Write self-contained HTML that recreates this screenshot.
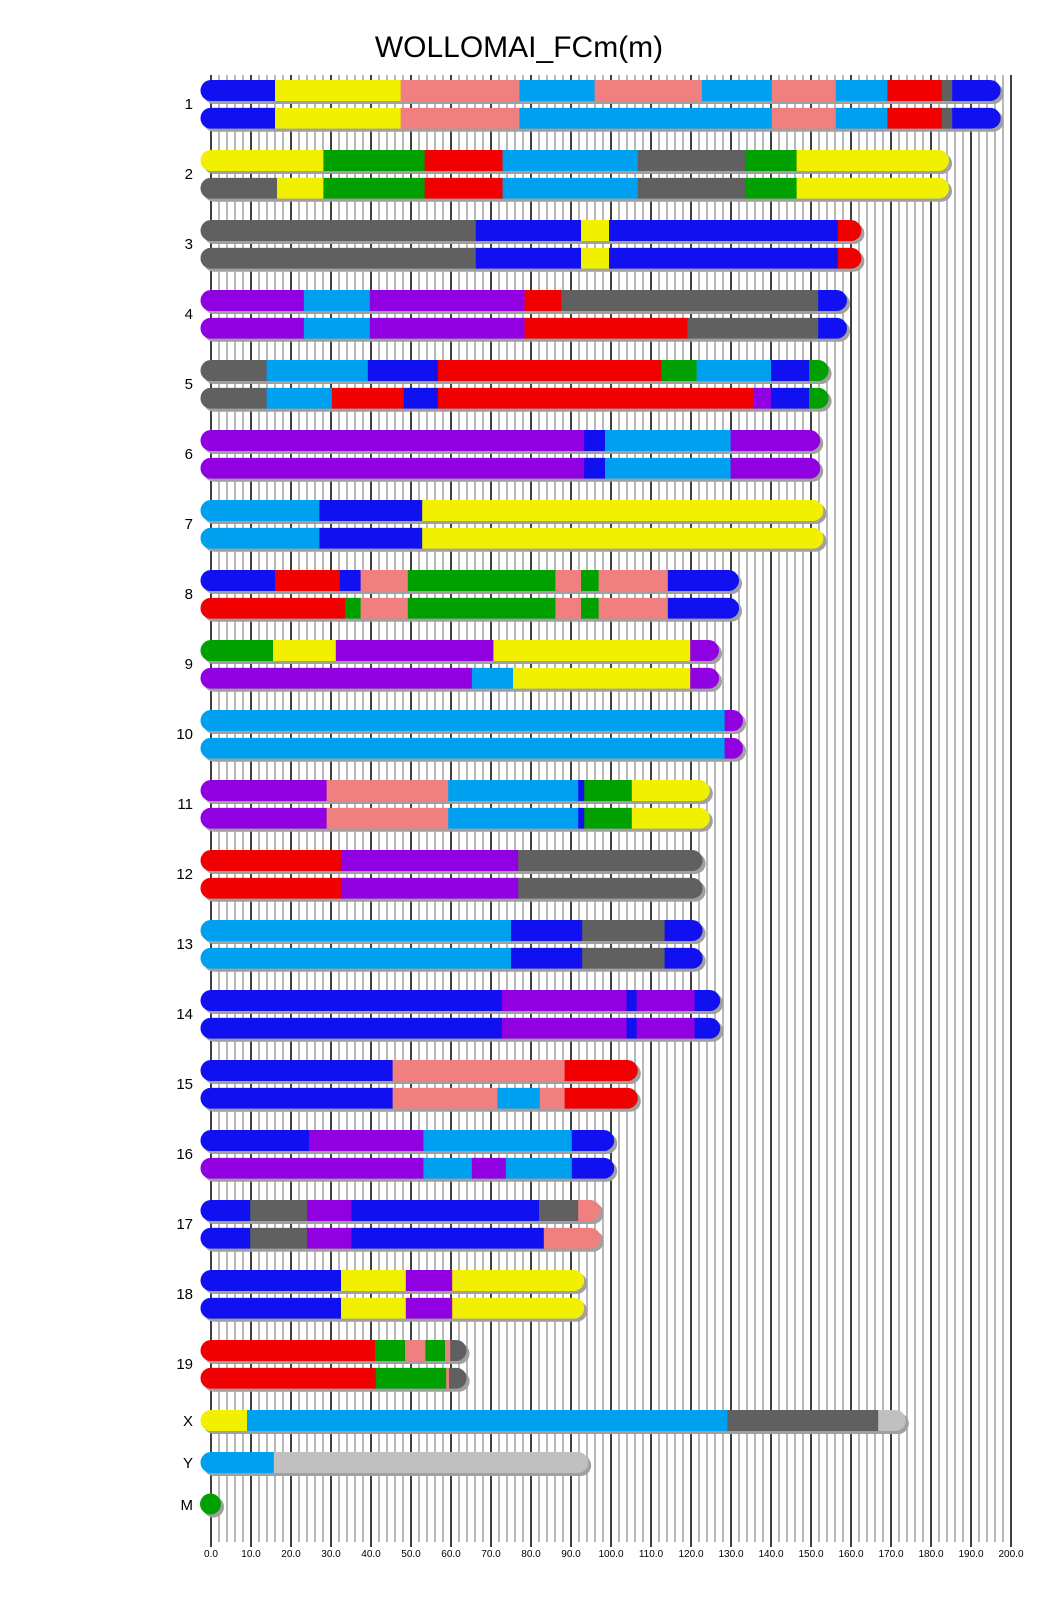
<!DOCTYPE html>
<html><head><meta charset="utf-8"><style>html,body{margin:0;padding:0;background:#fff;}svg{display:block}</style></head>
<body>
<svg id="s" width="1040" height="1616" xmlns="http://www.w3.org/2000/svg" font-family="Liberation Sans, Arial, sans-serif"></svg>
<script>
const C={b:'#1010f0',y:'#f0f000',p:'#f08080',l:'#00a0f0',r:'#f00000',g:'#606060',G:'#00a000',u:'#9000e0',s:'#c0c0c0'};
const chrs=[
['1',[['b',16],['y',47.4],['p',77.1],['l',95.9],['p',122.7],['l',140.2],['p',156.2],['l',169.1],['r',182.7],['g',185.3],['b',197.4]],
     [['b',16],['y',47.4],['p',77.1],['l',140.2],['p',156.2],['l',169.1],['r',182.7],['g',185.3],['b',197.4]]],
['2',[['y',28.1],['G',53.4],['r',72.9],['l',106.7],['g',133.5],['G',146.4],['y',184.5]],
     [['g',16.5],['y',28.1],['G',53.4],['r',72.9],['l',106.7],['g',133.5],['G',146.4],['y',184.5]]],
['3',[['g',66.2],['b',92.5],['y',99.5],['b',156.7],['r',162.6]],[['g',66.2],['b',92.5],['y',99.5],['b',156.7],['r',162.6]]],
['4',[['u',23.2],['l',39.7],['u',78.4],['r',87.6],['g',151.8],['b',159]],[['u',23.2],['l',39.7],['u',78.4],['r',119.1],['g',151.8],['b',159]]],
['5',[['g',13.9],['l',39.2],['b',56.7],['r',112.6],['G',121.4],['l',140],['b',149.5],['G',154.4]],
     [['g',13.9],['l',30.2],['r',48.2],['b',56.7],['r',135.6],['u',140],['b',149.5],['G',154.4]]],
['6',[['u',93.3],['b',98.5],['l',129.9],['u',152.3]],[['u',93.3],['b',98.5],['l',129.9],['u',152.3]]],
['7',[['l',27.1],['b',52.8],['y',153.1]],[['l',27.1],['b',52.8],['y',153.1]]],
['8',[['b',16],['r',32.2],['b',37.4],['p',49.2],['G',86.1],['p',92.5],['G',96.9],['p',114.2],['b',132]],
     [['r',33.5],['G',37.4],['p',49.2],['G',86.1],['p',92.5],['G',96.9],['p',114.2],['b',132]]],
['9',[['G',15.5],['y',31.2],['u',70.6],['y',119.8],['u',127]],[['u',65.2],['l',75.5],['y',119.8],['u',127]]],
['10',[['l',128.4],['u',133]],[['l',128.4],['u',133]]],
['11',[['u',28.9],['p',59.3],['l',91.8],['b',93.3],['G',105.2],['y',124.7]],[['u',28.9],['p',59.3],['l',91.8],['b',93.3],['G',105.2],['y',124.7]]],
['12',[['r',32.5],['u',76.8],['g',122.9]],[['r',32.5],['u',76.8],['g',122.9]]],
['13',[['l',75],['b',92.8],['g',113.4],['b',122.9]],[['l',75],['b',92.8],['g',113.4],['b',122.9]]],
['14',[['b',72.7],['u',103.9],['b',106.4],['u',120.9],['b',127.3]],[['b',72.7],['u',103.9],['b',106.4],['u',120.9],['b',127.3]]],
['15',[['b',45.4],['p',88.4],['r',106.7]],[['b',45.4],['p',71.6],['l',82.2],['p',88.4],['r',106.7]]],
['16',[['b',24.5],['u',53.1],['l',90.2],['b',100.8]],[['u',53.1],['l',65.2],['u',73.7],['l',90.2],['b',100.8]]],
['17',[['b',9.8],['g',24],['u',35.1],['b',82],['g',91.8],['p',97.4]],[['b',9.8],['g',24],['u',35.1],['b',83.2],['p',97.4]]],
['18',[['b',32.5],['y',48.7],['u',60.3],['y',93.3]],[['b',32.5],['y',48.7],['u',60.3],['y',93.3]]],
['19',[['r',41],['G',48.5],['p',53.6],['G',58.5],['p',59.8],['g',63.9]],[['r',41.2],['G',58.8],['p',59.5],['g',63.9]]]
];
const X0=211,K=4,H=21,R=10.5;
const px=u=>X0+u*K;
let o='';
// grid
for(let i=1;i<100;i++){ if(i%5==0)continue; const x=px(i*2); o+=`<line x1="${x}" y1="75" x2="${x}" y2="1542" stroke="#a0a0a0" stroke-width="1.5"/>`;}
for(let i=0;i<=20;i++){const x=px(i*10); o+=`<line x1="${x}" y1="75" x2="${x}" y2="1547" stroke="#000" stroke-width="1.5"/>`;
 o+=`<text x="${x}" y="1557" font-size="10" text-anchor="middle">${(i*10).toFixed(1)}</text>`;}
let cid=0;
function bar(y,segs){
 const end=segs[segs.length-1][1];const x1=X0-R,x2=px(end);
 o+=`<rect x="${x1+3}" y="${y+3}" width="${x2-x1}" height="${H}" rx="${R}" fill="#a0a0a0"/>`;
 cid++;o+=`<clipPath id="c${cid}"><rect x="${x1}" y="${y}" width="${x2-x1}" height="${H}" rx="${R}"/></clipPath><g clip-path="url(#c${cid})">`;
 let s=x1;for(const [c,e] of segs){const xe=px(e);o+=`<rect x="${s}" y="${y}" width="${xe-s+0.5}" height="${H}" fill="${C[c]}"/>`;s=xe;}
 o+='</g>';
}
chrs.forEach((c,i)=>{const y=80+70*i;bar(y,c[1]);bar(y+27.7,c[2]);
 o+=`<text x="193" y="${y+29}" font-size="15" text-anchor="end">${c[0]}</text>`;});
bar(1410,[['y',9],['l',129.1],['g',166.8],['s',173.7]]);
o+=`<text x="193" y="1426" font-size="15" text-anchor="end">X</text>`;
bar(1452,[['l',15.7],['s',94.3]]);
o+=`<text x="193" y="1468" font-size="15" text-anchor="end">Y</text>`;
o+=`<circle cx="213.5" cy="1507" r="10.5" fill="#a0a0a0"/><circle cx="210.5" cy="1504" r="10.5" fill="${C.G}"/>`;
o+=`<text x="193" y="1510" font-size="15" text-anchor="end">M</text>`;
o+=`<text x="519" y="57" font-size="30" text-anchor="middle">WOLLOMAI_FCm(m)</text>`;
document.getElementById('s').innerHTML=o;
</script>
</body></html>
